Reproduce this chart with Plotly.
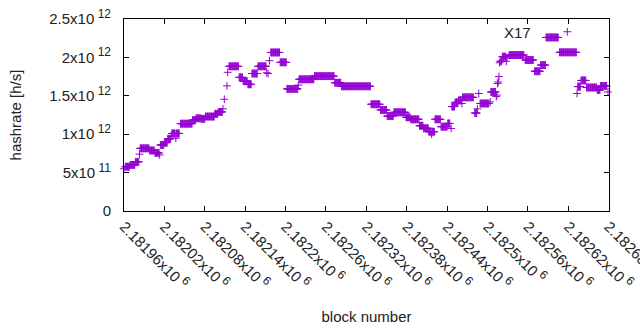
import numpy as np
import plotly.graph_objects as go

BASE = 2181960
# runs of consecutive blocks with the same hashrate (block offsets from BASE)
run_start = [0, 2, 9, 17, 23, 24, 38, 46, 53, 54, 60, 65, 70, 71, 77, 78, 84, 102, 107, 115,
             121, 135, 140, 147, 149, 153, 154, 156, 171, 177, 184, 190, 199, 212, 214, 216, 218, 232, 242, 259,
             260, 283, 313, 323, 367, 381, 391, 401, 419, 426, 439, 445, 453, 457, 458, 462, 471, 481, 486, 487,
             492, 497, 502, 503, 521, 525, 527, 529, 544, 545, 553, 554, 555, 556, 557, 558, 559, 562, 568, 569,
             572, 596, 610, 619, 627, 647, 673, 674, 679, 687, 703, 708, 719]
run_end = [0, 8, 16, 22, 23, 37, 45, 52, 53, 59, 64, 69, 70, 76, 77, 82, 101, 106, 114, 120,
           134, 139, 146, 147, 149, 153, 154, 170, 176, 183, 189, 198, 211, 212, 214, 216, 231, 241, 258, 259,
           282, 312, 322, 366, 380, 390, 400, 418, 425, 438, 444, 452, 456, 457, 461, 470, 480, 484, 486, 491,
           496, 501, 502, 519, 524, 525, 527, 542, 544, 552, 553, 554, 555, 556, 557, 558, 561, 567, 568, 569,
           594, 608, 618, 626, 645, 672, 673, 678, 686, 702, 707, 717, 719]
run_value = [0.55, 0.577, 0.60, 0.64, 0.74, 0.816, 0.788, 0.757, 0.73, 0.86, 0.89, 0.94, 0.97, 1.01, 0.947, 1.01, 1.137, 1.185, 1.207, 1.20,
             1.23, 1.265, 1.29, 1.33, 1.455, 1.63, 1.806, 1.884, 1.74, 1.69, 1.65, 1.79, 1.884, 1.80, 1.79, 1.957, 2.064, 1.936, 1.59, 1.64,
             1.715, 1.756, 1.67, 1.624, 1.39, 1.315, 1.237, 1.285, 1.22, 1.194, 1.11, 1.077, 1.032, 1.0, 1.032, 1.194, 1.098, 1.14, 1.075, 1.36,
             1.415, 1.44, 1.40, 1.48, 1.276, 1.33, 1.53, 1.40, 1.42, 1.55, 1.49, 1.51, 1.66, 1.68, 1.75, 1.93, 1.95, 2.01, 1.95, 1.99,
             2.03, 1.966, 1.82, 1.90, 2.26, 2.066, 1.53, 1.62, 1.70, 1.608, 1.575, 1.628, 1.55]  # x 1e12 h/s

x_tick_vals = [2181960, 2182020, 2182080, 2182140, 2182200, 2182260, 2182320,
               2182380, 2182440, 2182500, 2182560, 2182620, 2182680]
x_tick_mant = ["2.18196", "2.18202", "2.18208", "2.18214", "2.1822", "2.18226", "2.18232",
               "2.18238", "2.18244", "2.1825", "2.18256", "2.18262", "2.18268"]
y_tick_vals = [0, 0.5e12, 1e12, 1.5e12, 2e12, 2.5e12]
y_tick_mant = ["0", "5", "1", "1.5", "2", "2.5"]
y_tick_exp = ["", "11", "12", "12", "12", "12"]
series_name = "X17"

blocks, values = [], []
for s, e, v in zip(run_start, run_end, run_value):
    for b in range(s, e + 1):
        blocks.append(BASE + b)
        values.append(v * 1e12)

def sup(t):
    return '<sup><span style="font-size:12px"> ' + t + '</span></sup>'

x_tick_text = [m + "x10" + sup("6") for m in x_tick_mant]
y_tick_text = [m if not e else m + "x10" + sup(e) for m, e in zip(y_tick_mant, y_tick_exp)]

COLOR = "#9400D3"
FONT = dict(family="Liberation Sans, Arial, sans-serif", size=15, color="#222222")

fig = go.Figure()
fig.add_trace(go.Scatter(
    x=blocks, y=values, mode="markers", name=" ",
    marker=dict(symbol="cross-thin", size=5.6, color=COLOR,
                line=dict(color=COLOR, width=1.0)),
    cliponaxis=False, showlegend=True,
))

axis_common = dict(showline=True, linecolor="black", linewidth=1, mirror="ticks",
                   ticks="inside", ticklen=5, tickcolor="black", tickwidth=1,
                   showgrid=False, zeroline=False, tickfont=FONT,
                   ticklabeloverflow="allow")

fig.update_layout(
    width=640, height=330,
    margin=dict(l=124, r=31, t=19, b=119, autoexpand=False),
    paper_bgcolor="white", plot_bgcolor="white",
    font=FONT,
    xaxis=dict(range=[2181960, 2182680.5], tickvals=x_tick_vals, ticktext=x_tick_text,
               tickangle=45, title=dict(text="block number", font=FONT, standoff=19),
               **axis_common),
    yaxis=dict(range=[0, 2.5e12], tickvals=y_tick_vals, ticktext=y_tick_text,
               ticklabelstandoff=9,
               title=dict(text="hashrate [h/s]", font=FONT, standoff=24), **axis_common),
    legend=dict(x=(567.3 - 124 - 20) / 485, xanchor="left",
                y=(211 - 32) / 192, yanchor="middle",
                bgcolor="rgba(0,0,0,0)", font=FONT, borderwidth=0),
    showlegend=True,
    annotations=[dict(text=series_name, xref="paper", yref="paper",
                      x=(533 - 124) / 485, y=(211 - 32) / 192,
                      xanchor="right", yanchor="middle", showarrow=False, font=FONT)],
)

fig.write_html("out.html", config={"displayModeBar": False},
               post_script="document.body.style.margin='0';")
